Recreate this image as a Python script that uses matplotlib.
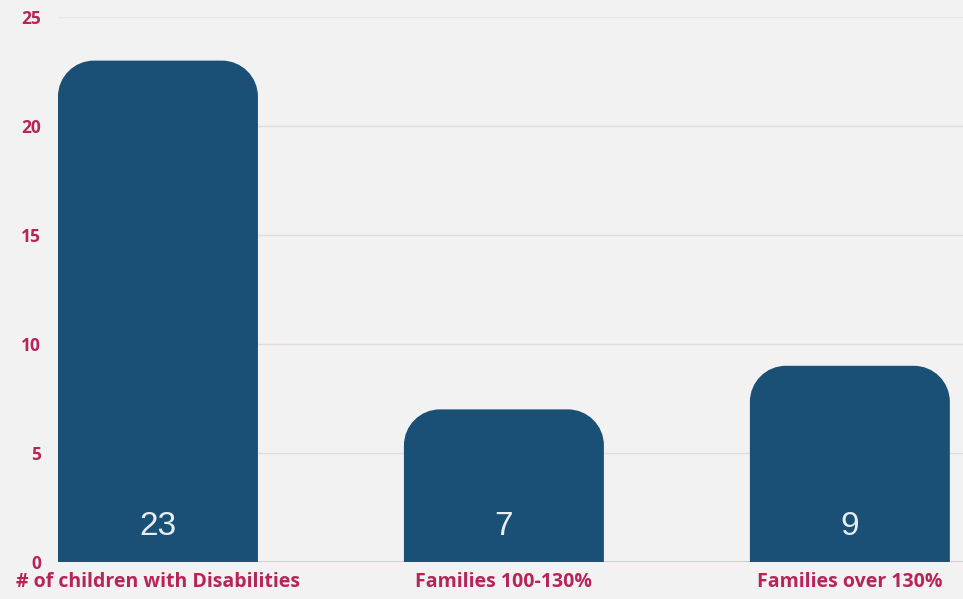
import matplotlib.pyplot as plt
from matplotlib.path import Path
from matplotlib.patches import PathPatch

categories = ['# of children with Disabilities', 'Families 100-130%', 'Families over 130%']
values = [23, 7, 9]
yticks = [0, 5, 10, 15, 20, 25]

bar_color = '#1b5076'
label_color = '#b8245a'

fig = plt.figure(figsize=(9.63, 5.99), dpi=100)
fig.patch.set_facecolor('#f2f2f2')
ax = fig.add_axes([0.0602, 0.0618, 0.9398, 0.9098])
ax.set_facecolor('#f2f2f2')

ax.set_xlim(-0.289, 2.327)
ax.set_ylim(0, 25)

bars = ax.bar(range(len(values)), values, width=0.578, color=bar_color, zorder=3)

# swap each rectangle for one with rounded top corners (radius in pixels)
fig.canvas.draw()
r_px = 36
px_per_x = ax.transData.transform((1, 0))[0] - ax.transData.transform((0, 0))[0]
px_per_y = ax.transData.transform((0, 1))[1] - ax.transData.transform((0, 0))[1]
rx = r_px / px_per_x
ry = r_px / px_per_y
k = 0.5523
for b in bars:
    x0, w, h = b.get_x(), b.get_width(), b.get_height()
    x1 = x0 + w
    verts = [
        (x0, 0), (x0, h - ry),
        (x0, h - ry + k * ry), (x0 + rx - k * rx, h), (x0 + rx, h),
        (x1 - rx, h),
        (x1 - rx + k * rx, h), (x1, h - ry + k * ry), (x1, h - ry),
        (x1, 0), (x0, 0),
    ]
    codes = [Path.MOVETO, Path.LINETO,
             Path.CURVE4, Path.CURVE4, Path.CURVE4,
             Path.LINETO,
             Path.CURVE4, Path.CURVE4, Path.CURVE4,
             Path.LINETO, Path.CLOSEPOLY]
    b.set_visible(False)
    ax.add_patch(PathPatch(Path(verts, codes), facecolor=bar_color, edgecolor='none', zorder=3))
    ax.text(b.get_x() + w / 2, 1.65, str(int(h)), ha='center', va='center',
            color='#e6eef4', fontsize=24, family='Liberation Sans', zorder=4)

for y in yticks[1:-1]:
    ax.axhline(y, color='#e4dcdc', lw=1, zorder=1)
ax.axhline(25, color='#ebe6e6', lw=1, zorder=1)
ax.axhline(0, color='#e9b4bf', lw=1.2, zorder=2)

for s in ax.spines.values():
    s.set_visible(False)

ax.set_yticks(yticks)
ax.set_yticklabels([str(t) for t in yticks])
ax.set_xticks(range(len(categories)))
ax.set_xticklabels(categories)
ax.tick_params(axis='both', length=0, colors=label_color)
ax.tick_params(axis='y', pad=12, labelsize=12.5)
ax.tick_params(axis='x', pad=7, labelsize=14)
for t in ax.get_xticklabels() + ax.get_yticklabels():
    t.set_fontfamily('Open Sans')
    t.set_fontweight('bold')

fig.savefig('out.png', dpi=100, facecolor=fig.get_facecolor())
